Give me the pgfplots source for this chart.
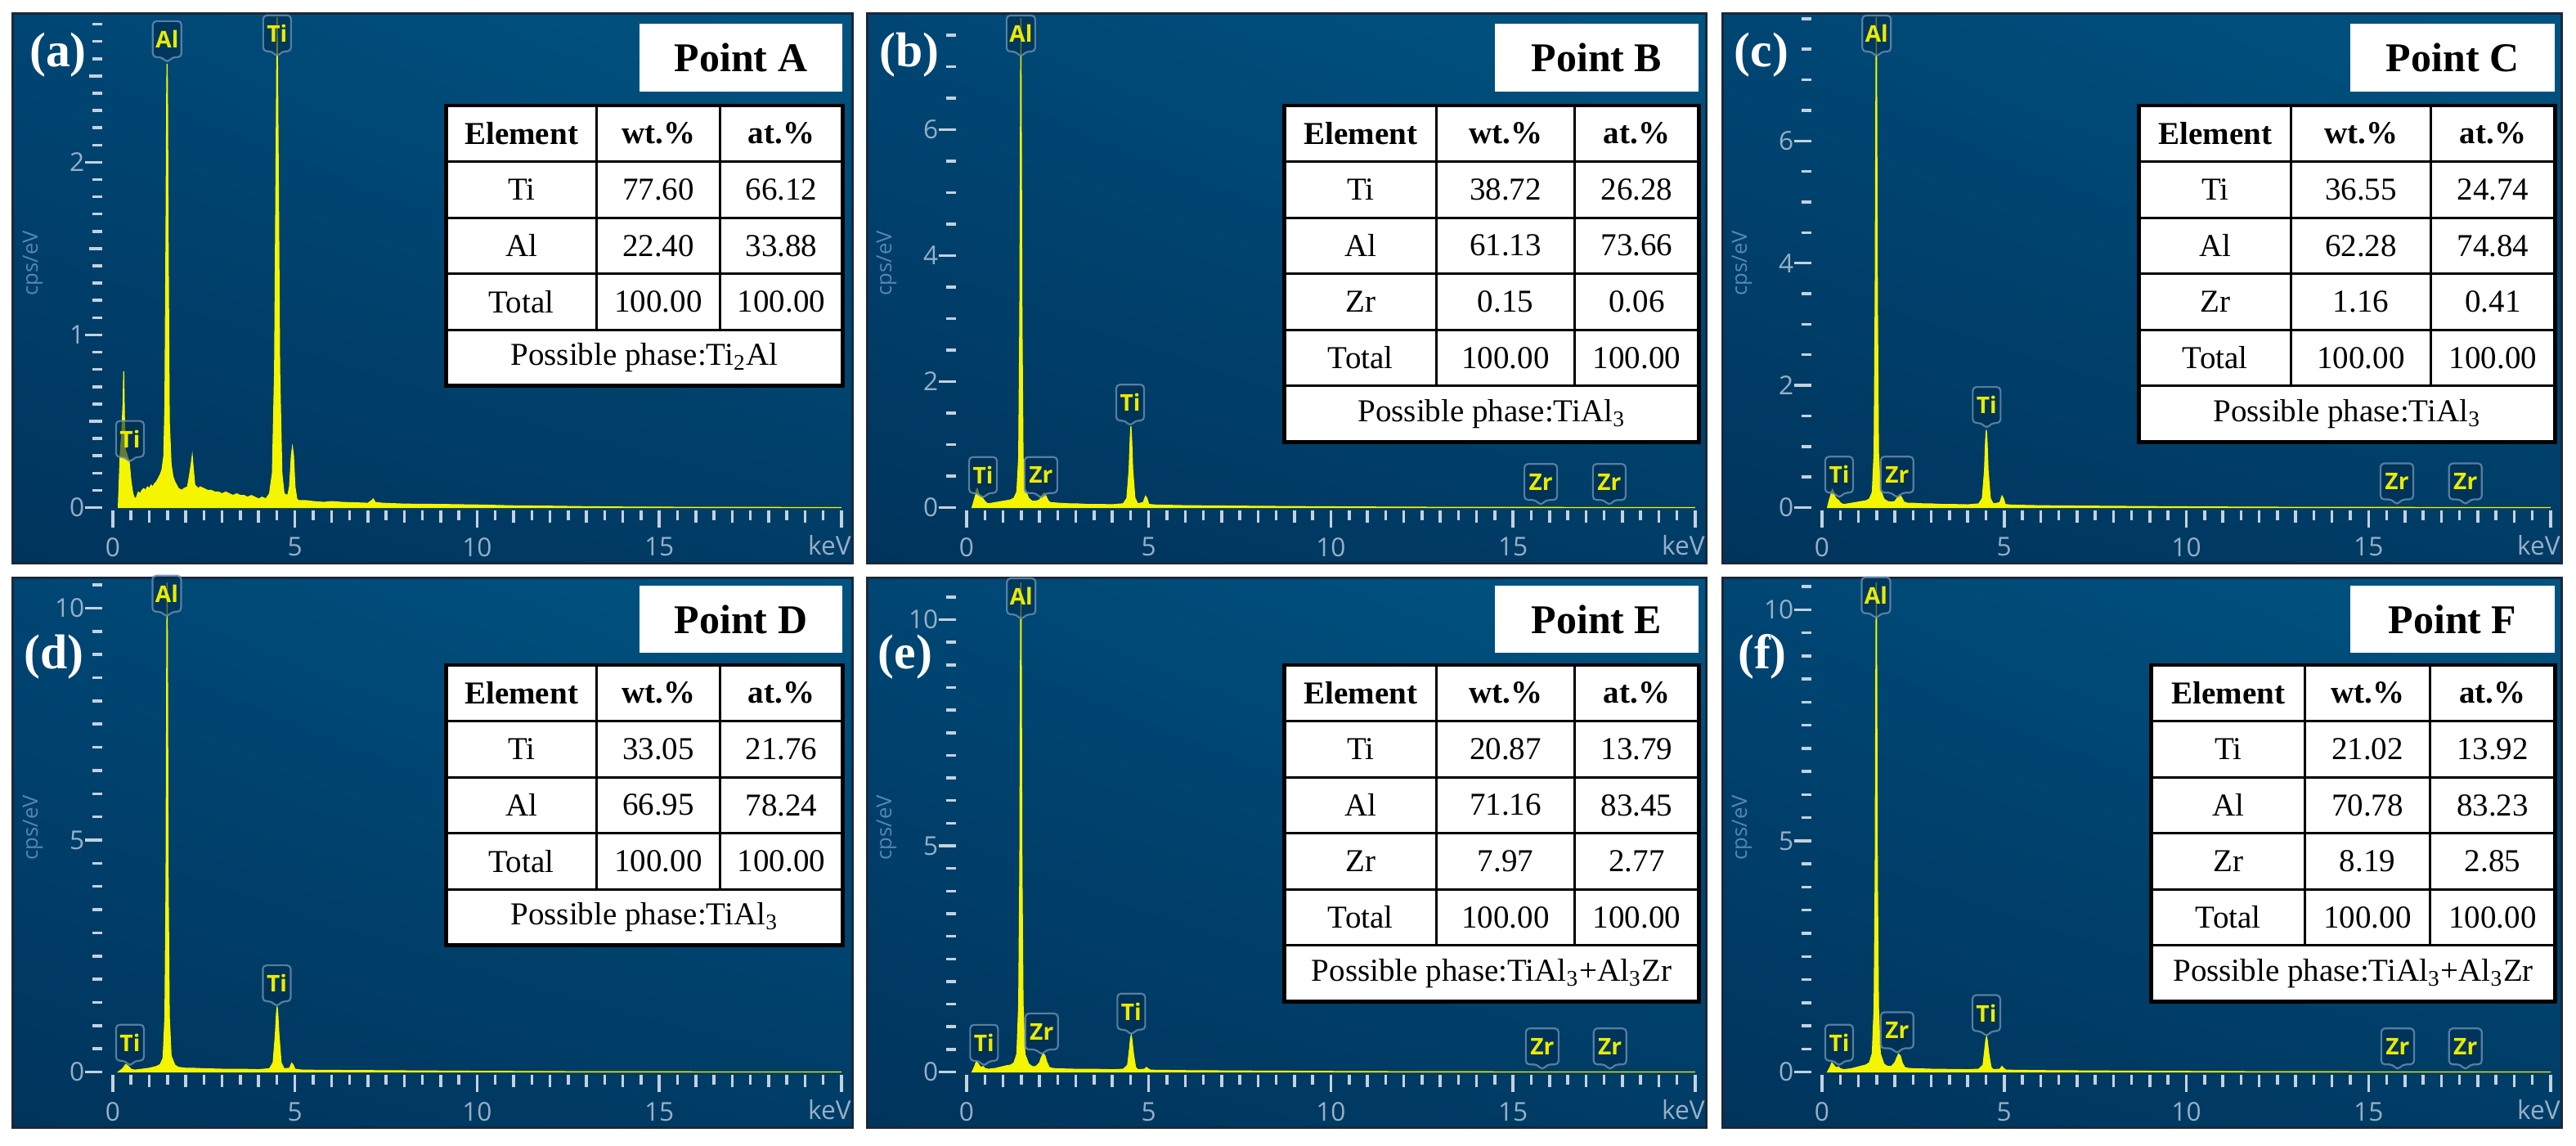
\documentclass[border=0pt]{standalone}
\usepackage{pgfplots}
\pgfplotsset{compat=1.18}
\usetikzlibrary{shadings}
\usepackage{fontspec}
\setmainfont{Liberation Serif}
\newfontfamily\osans{Open Sans}

\definecolor{bgUL}{RGB}{0,70,116}
\definecolor{bgUR}{RGB}{0,84,130}
\definecolor{bgLL}{RGB}{0,52,92}
\definecolor{bgLR}{RGB}{0,60,102}
\definecolor{tickcol}{RGB}{195,210,224}
\definecolor{tlabel}{RGB}{150,175,198}
\definecolor{cpscol}{RGB}{85,135,175}
\definecolor{pkyellow}{RGB}{245,245,0}
\definecolor{lbltext}{RGB}{235,235,0}
\definecolor{lblfill}{RGB}{0,45,80}
\definecolor{lblborder}{RGB}{100,140,172}
\definecolor{framecol}{RGB}{25,40,58}

\newcommand{\tabfont}{\fontsize{11.1}{13}\selectfont}

% peak label: x, y (pointer tip), text, side, full width
\newcommand{\pk}[5]{%
 \draw[lblborder, line width=0.022cm, fill=lblfill, fill opacity=0.6, draw opacity=0.85, rounded corners=0.045cm]
  (axis cs:#1,#2) -- ++(0.06cm,0.07cm) -- ++(#4,0cm) -- ++(0cm,0.44cm) -- ++(-#5,0cm) -- ++(0cm,-0.44cm) -- ++(#4,0cm) -- cycle;
 \node[text=lbltext, font=\osans\bfseries\fontsize{8}{9}\selectfont, inner sep=0pt] at ([yshift=0.29cm]axis cs:#1,#2) {#3};
}
\newcommand{\pkTi}[2]{\pk{#1}{#2}{Ti}{0.11cm}{0.34cm}}
\newcommand{\pkAl}[2]{\pk{#1}{#2}{Al}{0.115cm}{0.35cm}}
\newcommand{\pkZr}[2]{\pk{#1}{#2}{Zr}{0.14cm}{0.40cm}}

\pgfplotsset{eds/.style={
  scale only axis, width=9.155cm,
  xmin=-0.3, xmax=20.25,
  axis x line*=bottom, axis y line*=left,
  axis line style={draw=none},
  tick align=outside,
  major tick length=0.21cm, minor tick length=0.12cm,
  tick style={line width=0.035cm, color=tickcol},
  xtick={0,5,10,15,20}, xticklabels={0,5,10,15,{}},
  minor xtick={0,0.5,...,20},
  extra x ticks={1,2,3,4,6,7,8,9,11,12,13,14,16,17,18,19},
  extra x tick labels={},
  extra x tick style={major tick length=0.15cm},
  ticklabel style={font=\osans\fontsize{9}{10}\selectfont, text=tlabel},
  yticklabel style={xshift=0.12cm},
  clip mode=individual,
  spec/.style={draw=pkyellow, line width=0.012cm, fill=pkyellow},
}}

\newcommand{\panelbg}[2]{%
 \begin{scope}[shift={({#1/100},{14-#2/100})}, x=0.01cm, y=-0.01cm]
  \shade[upper left=bgUL, upper right=bgUR, lower left=bgLL, lower right=bgLR] (0,0) rectangle (1027,672);
  \draw[framecol, line width=0.03cm] (0,0) rectangle (1027,672);
  \node[rotate=90, text=cpscol, font=\osans\fontsize{7.3}{8}\selectfont] at (24,305) {cps/eV};
  \node[text=tlabel, font=\osans\fontsize{9}{10}\selectfont] at (999,650) {keV};
 \end{scope}}

% L C1 C2 R T N(rows incl. header, excl. phase row)
\newcommand{\edstable}[6]{%
 \def\tL{#1}\def\tCa{#2}\def\tCb{#3}\def\tR{#4}\def\tT{#5}%
 \fill[white] (#1,#5) rectangle (#4,{#5+(#6+1)*68.6});
 \foreach \k in {1,...,#6} {\draw[line width=0.03cm] (#1,{#5+\k*68.6}) -- (#4,{#5+\k*68.6});}
 \draw[line width=0.03cm] (#2,#5) -- (#2,{#5+#6*68.6}) (#3,#5) -- (#3,{#5+#6*68.6});
 \draw[line width=0.045cm] (#1,#5) rectangle (#4,{#5+(#6+1)*68.6});
}
\newcommand{\trow}[4]{%
 \node[font=\tabfont] at ({(\tL+\tCa)/2},{\tT+(#1+0.5)*68.6}) {#2};
 \node[font=\tabfont] at ({(\tCa+\tCb)/2},{\tT+(#1+0.5)*68.6}) {#3};
 \node[font=\tabfont] at ({(\tCb+\tR)/2},{\tT+(#1+0.5)*68.6}) {#4};
}
\newcommand{\tphase}[2]{%
 \node[font=\tabfont] at ({(\tL+\tR)/2},{\tT+(#1+0.5)*68.6}) {#2};
}

\begin{document}
\begin{tikzpicture}
\useasboundingbox (0,0) rectangle (31.5,14);
\fill[white] (0,0) rectangle (31.5,14);

\panelbg{16}{17}
\panelbg{1060}{17}
\panelbg{2106}{17}
\panelbg{16}{707}
\panelbg{1060}{707}
\panelbg{2106}{707}

% ---------------- (a)
\begin{axis}[eds, at={(1.246cm,7.76cm)}, anchor=south west, height=6.02cm,
  ymin=-0.0166, ymax=2.836,
  ytick={0,1,2}, yticklabels={0,1,2},
  minor ytick={0.1,0.2,0.3,0.4,0.5,0.6,0.7,0.8,0.9,1.1,1.2,1.3,1.4,1.5,1.6,1.7,1.8,1.9,2.1,2.2,2.3,2.4,2.5,2.6,2.7,2.8},
  extra y ticks={0.5,1.5,2.5}, extra y tick labels={}, extra y tick style={major tick length=0.16cm}]
\addplot[spec] coordinates {(0.15,0) (0.2,0.3) (0.25,0.45) (0.28,0.6) (0.3,0.79) (0.32,0.5) (0.35,0.33) (0.4,0.3) (0.45,0.26) (0.5,0.15) (0.55,0.08) (0.6,0.05) (0.65,0.06) (0.7,0.09) (0.75,0.08) (0.8,0.1) (0.85,0.11) (0.9,0.1) (0.95,0.12) (1.0,0.11) (1.05,0.13) (1.1,0.12) (1.15,0.14) (1.2,0.15) (1.25,0.17) (1.3,0.19) (1.35,0.22) (1.4,0.3) (1.43,0.6) (1.46,1.6) (1.48,2.45) (1.49,2.57) (1.5,2.45) (1.52,1.5) (1.55,0.5) (1.6,0.25) (1.65,0.18) (1.7,0.15) (1.75,0.13) (1.8,0.11) (1.9,0.1) (1.95,0.11) (2.05,0.12) (2.1,0.18) (2.15,0.25) (2.18,0.3) (2.21,0.22) (2.25,0.13) (2.3,0.12) (2.35,0.11) (2.4,0.12) (2.5,0.11) (2.6,0.1) (2.7,0.1) (2.8,0.09) (2.9,0.09) (3.0,0.08) (3.1,0.09) (3.2,0.08) (3.3,0.07) (3.4,0.08) (3.5,0.07) (3.6,0.07) (3.7,0.06) (3.8,0.07) (3.9,0.06) (4.0,0.05) (4.1,0.06) (4.2,0.05) (4.3,0.08) (4.38,0.2) (4.44,0.8) (4.48,2.0) (4.51,2.9) (4.54,2.0) (4.58,0.8) (4.64,0.2) (4.7,0.08) (4.8,0.07) (4.85,0.12) (4.9,0.3) (4.93,0.35) (4.96,0.3) (5.0,0.12) (5.05,0.05) (5.1,0.04) (5.3,0.04) (5.5,0.035) (5.8,0.03) (6.0,0.035) (6.3,0.03) (6.6,0.028) (7.0,0.025) (7.1,0.04) (7.15,0.05) (7.2,0.03) (7.4,0.025) (8.0,0.02) (9.0,0.018) (10.0,0.015) (11.0,0.01) (12.0,0.008) (13.0,0.005) (14.0,0.003) (15.0,0.002) (20.0,0)} \closedcycle;
\pkAl{1.49}{2.576}
\pkTi{4.51}{2.61}
\pkTi{0.47}{0.26}
\end{axis}

% ---------------- (b)
\begin{axis}[eds, at={(11.686cm,7.76cm)}, anchor=south west, height=6.02cm,
  ymin=-0.0455, ymax=7.773,
  ytick={0,2,4,6}, yticklabels={0,2,4,6},
  minor ytick={0,0.5,...,7.5}]
\addplot[spec] coordinates {(0.15,0) (0.2,0.1) (0.25,0.2) (0.27,0.29) (0.3,0.3) (0.33,0.22) (0.38,0.18) (0.45,0.14) (0.5,0.1) (0.55,0.07) (0.6,0.06) (0.7,0.07) (0.8,0.08) (0.9,0.09) (1.0,0.1) (1.1,0.11) (1.2,0.12) (1.3,0.15) (1.38,0.25) (1.43,0.8) (1.46,3.0) (1.48,6.3) (1.49,7.9) (1.5,6.3) (1.52,3.0) (1.55,0.8) (1.6,0.3) (1.7,0.15) (1.8,0.1) (1.9,0.1) (2.0,0.12) (2.08,0.2) (2.13,0.23) (2.18,0.18) (2.25,0.1) (2.3,0.08) (2.5,0.07) (2.8,0.06) (3.0,0.06) (3.3,0.05) (3.6,0.05) (4.0,0.045) (4.3,0.06) (4.4,0.15) (4.46,0.6) (4.49,1.1) (4.51,1.29) (4.53,1.1) (4.56,0.6) (4.62,0.15) (4.7,0.06) (4.85,0.08) (4.91,0.18) (4.95,0.15) (5.0,0.05) (5.2,0.04) (6.0,0.03) (7.0,0.025) (8.0,0.02) (10.0,0.012) (12.0,0.006) (14.0,0.003) (20.0,0)} \closedcycle;
\pkTi{0.45}{0.14}
\pkAl{1.49}{7.15}
\pkZr{2.04}{0.14}
\pkTi{4.49}{1.29}
\pkZr{15.76}{0.03}
\pkZr{17.64}{0.03}
\end{axis}

% ---------------- (c)
\begin{axis}[eds, at={(22.146cm,7.76cm)}, anchor=south west, height=6.02cm,
  ymin=-0.0469, ymax=8.012,
  ytick={0,2,4,6}, yticklabels={0,2,4,6},
  minor ytick={0,0.5,...,8}]
\addplot[spec] coordinates {(0.15,0) (0.2,0.12) (0.25,0.22) (0.28,0.3) (0.31,0.28) (0.35,0.18) (0.4,0.14) (0.45,0.12) (0.5,0.08) (0.55,0.06) (0.6,0.05) (0.7,0.06) (0.8,0.07) (0.9,0.08) (1.0,0.09) (1.1,0.1) (1.2,0.11) (1.3,0.14) (1.38,0.25) (1.43,0.9) (1.46,3.5) (1.48,7.0) (1.49,8.1) (1.5,7.0) (1.52,3.5) (1.55,0.9) (1.6,0.3) (1.7,0.14) (1.8,0.1) (1.9,0.09) (2.0,0.1) (2.08,0.17) (2.13,0.21) (2.18,0.17) (2.25,0.09) (2.35,0.07) (2.5,0.07) (2.8,0.06) (3.0,0.06) (3.3,0.05) (3.6,0.05) (4.0,0.045) (4.3,0.06) (4.4,0.15) (4.46,0.6) (4.49,1.1) (4.51,1.27) (4.53,1.1) (4.56,0.6) (4.62,0.15) (4.7,0.06) (4.88,0.08) (4.94,0.19) (4.98,0.15) (5.03,0.05) (5.2,0.04) (6.0,0.03) (7.0,0.025) (8.0,0.02) (10.0,0.012) (12.0,0.006) (14.0,0.003) (20.0,0)} \closedcycle;
\pkTi{0.47}{0.15}
\pkAl{1.5}{7.37}
\pkZr{2.06}{0.15}
\pkTi{4.52}{1.29}
\pkZr{15.78}{0.04}
\pkZr{17.66}{0.04}
\end{axis}

% ---------------- (d)
\begin{axis}[eds, at={(1.246cm,0.86cm)}, anchor=south west, height=6.01cm,
  ymin=-0.0617, ymax=10.538,
  ytick={0,5,10}, yticklabels={0,5,10},
  minor ytick={0,0.5,...,10.5}]
\addplot[spec] coordinates {(0.15,0) (0.25,0.06) (0.3,0.1) (0.35,0.16) (0.4,0.14) (0.45,0.1) (0.5,0.06) (0.6,0.04) (0.7,0.05) (0.8,0.06) (0.9,0.07) (1.0,0.08) (1.1,0.1) (1.2,0.12) (1.3,0.16) (1.38,0.3) (1.43,1.2) (1.46,4.0) (1.48,9.0) (1.49,10.7) (1.5,9.0) (1.52,4.0) (1.55,1.2) (1.6,0.35) (1.7,0.15) (1.8,0.1) (1.9,0.09) (2.0,0.08) (2.2,0.08) (2.5,0.07) (3.0,0.06) (3.5,0.06) (4.0,0.05) (4.3,0.07) (4.4,0.2) (4.46,0.8) (4.49,1.25) (4.51,1.41) (4.53,1.25) (4.56,0.8) (4.62,0.2) (4.7,0.07) (4.85,0.08) (4.91,0.19) (4.95,0.15) (5.0,0.06) (5.2,0.04) (6.0,0.035) (7.0,0.03) (8.0,0.025) (10.0,0.015) (12.0,0.008) (14.0,0.004) (20.0,0)} \closedcycle;
\pkTi{0.47}{0.12}
\pkAl{1.48}{9.8}
\pkTi{4.5}{1.40}
\end{axis}

% ---------------- (e)
\begin{axis}[eds, at={(11.686cm,0.86cm)}, anchor=south west, height=6.01cm,
  ymin=-0.0633, ymax=10.805,
  ytick={0,5,10}, yticklabels={0,5,10},
  minor ytick={0,0.5,...,10.5}]
\addplot[spec] coordinates {(0.15,0) (0.22,0.12) (0.27,0.24) (0.3,0.2) (0.35,0.14) (0.4,0.1) (0.45,0.12) (0.5,0.08) (0.6,0.06) (0.7,0.07) (0.8,0.08) (0.9,0.1) (1.0,0.12) (1.1,0.14) (1.2,0.15) (1.3,0.2) (1.38,0.4) (1.43,1.5) (1.46,4.5) (1.48,9.5) (1.49,11.0) (1.5,9.5) (1.52,4.5) (1.55,1.5) (1.6,0.4) (1.7,0.18) (1.8,0.12) (1.9,0.12) (2.0,0.2) (2.05,0.32) (2.1,0.4) (2.15,0.36) (2.2,0.22) (2.27,0.1) (2.35,0.08) (2.5,0.07) (3.0,0.06) (3.5,0.06) (4.0,0.05) (4.3,0.06) (4.42,0.15) (4.47,0.5) (4.5,0.75) (4.52,0.81) (4.54,0.7) (4.58,0.4) (4.64,0.1) (4.7,0.05) (4.88,0.06) (4.94,0.1) (4.98,0.07) (5.05,0.04) (6.0,0.03) (7.0,0.025) (8.0,0.02) (10.0,0.012) (12.0,0.006) (14.0,0.003) (20.0,0)} \closedcycle;
\pkTi{0.48}{0.12}
\pkAl{1.5}{9.99}
\pkZr{2.06}{0.37}
\pkTi{4.52}{0.81}
\pkZr{15.8}{0.04}
\pkZr{17.66}{0.04}
\end{axis}

% ---------------- (f)
\begin{axis}[eds, at={(22.146cm,0.86cm)}, anchor=south west, height=6.01cm,
  ymin=-0.0619, ymax=10.575,
  ytick={0,5,10}, yticklabels={0,5,10},
  minor ytick={0,0.5,...,10.5}]
\addplot[spec] coordinates {(0.15,0) (0.22,0.1) (0.27,0.2) (0.3,0.17) (0.35,0.12) (0.4,0.09) (0.45,0.11) (0.5,0.07) (0.6,0.05) (0.7,0.06) (0.8,0.07) (0.9,0.09) (1.0,0.11) (1.1,0.13) (1.2,0.15) (1.3,0.2) (1.38,0.4) (1.43,1.4) (1.46,4.3) (1.48,9.2) (1.49,10.8) (1.5,9.2) (1.52,4.3) (1.55,1.4) (1.6,0.4) (1.7,0.17) (1.8,0.12) (1.9,0.12) (2.0,0.2) (2.05,0.3) (2.1,0.39) (2.15,0.35) (2.2,0.2) (2.27,0.1) (2.35,0.08) (2.5,0.07) (2.8,0.065) (3.0,0.06) (3.5,0.055) (4.0,0.05) (4.3,0.06) (4.42,0.15) (4.47,0.5) (4.5,0.72) (4.52,0.76) (4.54,0.66) (4.58,0.38) (4.64,0.1) (4.7,0.05) (4.88,0.06) (4.94,0.12) (4.98,0.08) (5.05,0.04) (6.0,0.03) (7.0,0.025) (8.0,0.02) (10.0,0.012) (12.0,0.006) (14.0,0.003) (20.0,0)} \closedcycle;
\pkTi{0.47}{0.12}
\pkAl{1.48}{9.8}
\pkZr{2.06}{0.39}
\pkTi{4.51}{0.76}
\pkZr{15.8}{0.04}
\pkZr{17.66}{0.04}
\end{axis}

% ---------------- overlays
\begin{scope}[shift={(0.16,13.83)}, x=0.01cm, y=-0.01cm]
 \node[text=white, font=\bfseries\fontsize{17}{19}\selectfont] at (55,50) {(a)};
 \fill[white] (766,12) rectangle (1015,95);
 \node[font=\bfseries\fontsize{14.2}{16}\selectfont] at (890.5,53.5) {Point A};
 \edstable{530}{714}{865}{1015}{112}{4}
 \trow{0}{\textbf{Element}}{\textbf{wt.\%}}{\textbf{at.\%}}
 \trow{1}{Ti}{77.60}{66.12}
 \trow{2}{Al}{22.40}{33.88}
 \trow{3}{Total}{100.00}{100.00}
 \tphase{4}{Possible phase:Ti\textsubscript{2}Al}
\end{scope}

\begin{scope}[shift={(10.60,13.83)}, x=0.01cm, y=-0.01cm]
 \node[text=white, font=\bfseries\fontsize{17}{19}\selectfont] at (52,50) {(b)};
 \fill[white] (768,12) rectangle (1018,95);
 \node[font=\bfseries\fontsize{14.2}{16}\selectfont] at (893,53.5) {Point B};
 \edstable{511}{697}{866}{1018}{112}{5}
 \trow{0}{\textbf{Element}}{\textbf{wt.\%}}{\textbf{at.\%}}
 \trow{1}{Ti}{38.72}{26.28}
 \trow{2}{Al}{61.13}{73.66}
 \trow{3}{Zr}{0.15}{0.06}
 \trow{4}{Total}{100.00}{100.00}
 \tphase{5}{Possible phase:TiAl\textsubscript{3}}
\end{scope}

\begin{scope}[shift={(21.06,13.83)}, x=0.01cm, y=-0.01cm]
 \node[text=white, font=\bfseries\fontsize{17}{19}\selectfont] at (48,50) {(c)};
 \fill[white] (768,12) rectangle (1019,95);
 \node[font=\bfseries\fontsize{14.2}{16}\selectfont] at (893.5,53.5) {Point C};
 \edstable{510}{696}{867}{1019}{112}{5}
 \trow{0}{\textbf{Element}}{\textbf{wt.\%}}{\textbf{at.\%}}
 \trow{1}{Ti}{36.55}{24.74}
 \trow{2}{Al}{62.28}{74.84}
 \trow{3}{Zr}{1.16}{0.41}
 \trow{4}{Total}{100.00}{100.00}
 \tphase{5}{Possible phase:TiAl\textsubscript{3}}
\end{scope}

\begin{scope}[shift={(0.16,6.93)}, x=0.01cm, y=-0.01cm]
 \node[text=white, font=\bfseries\fontsize{17}{19}\selectfont] at (50,96) {(d)};
 \fill[white] (766,9) rectangle (1015,91);
 \node[font=\bfseries\fontsize{14.2}{16}\selectfont] at (890.5,50) {Point D};
 \edstable{530}{714}{865}{1015}{106}{4}
 \trow{0}{\textbf{Element}}{\textbf{wt.\%}}{\textbf{at.\%}}
 \trow{1}{Ti}{33.05}{21.76}
 \trow{2}{Al}{66.95}{78.24}
 \trow{3}{Total}{100.00}{100.00}
 \tphase{4}{Possible phase:TiAl\textsubscript{3}}
\end{scope}

\begin{scope}[shift={(10.60,6.93)}, x=0.01cm, y=-0.01cm]
 \node[text=white, font=\bfseries\fontsize{17}{19}\selectfont] at (47,96) {(e)};
 \fill[white] (768,9) rectangle (1018,91);
 \node[font=\bfseries\fontsize{14.2}{16}\selectfont] at (893,50) {Point E};
 \edstable{511}{697}{866}{1018}{106}{5}
 \trow{0}{\textbf{Element}}{\textbf{wt.\%}}{\textbf{at.\%}}
 \trow{1}{Ti}{20.87}{13.79}
 \trow{2}{Al}{71.16}{83.45}
 \trow{3}{Zr}{7.97}{2.77}
 \trow{4}{Total}{100.00}{100.00}
 \tphase{5}{Possible phase:TiAl\textsubscript{3}+Al\textsubscript{3}Zr}
\end{scope}

\begin{scope}[shift={(21.06,6.93)}, x=0.01cm, y=-0.01cm]
 \node[text=white, font=\bfseries\fontsize{17}{19}\selectfont] at (49,96) {(f)};
 \fill[white] (768,9) rectangle (1019,91);
 \node[font=\bfseries\fontsize{14.2}{16}\selectfont] at (893.5,50) {Point F};
 \edstable{525}{713}{866}{1019}{106}{5}
 \trow{0}{\textbf{Element}}{\textbf{wt.\%}}{\textbf{at.\%}}
 \trow{1}{Ti}{21.02}{13.92}
 \trow{2}{Al}{70.78}{83.23}
 \trow{3}{Zr}{8.19}{2.85}
 \trow{4}{Total}{100.00}{100.00}
 \tphase{5}{Possible phase:TiAl\textsubscript{3}+Al\textsubscript{3}Zr}
\end{scope}
\end{tikzpicture}
\end{document}
